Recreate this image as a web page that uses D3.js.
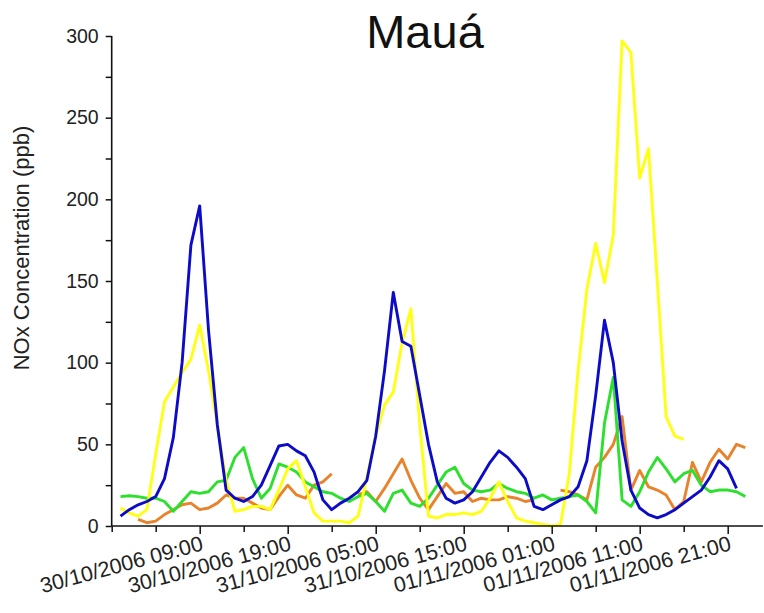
<!DOCTYPE html>
<html>
<head>
<meta charset="utf-8">
<script src="https://cdn.jsdelivr.net/npm/d3@7"></script>
<style>
  body { margin: 0; background: #fff; }
  svg { display: block; }
  text { font-family: "Liberation Sans", Arial, sans-serif; }
</style>
</head>
<body>
<svg id="chart" width="764" height="613"></svg>
<script>
// Hourly NOx readings (ppb) at Mauá, first value at 30/10/2006 00:00; null = no reading
const firstHour = "2006-10-30T00:00";

const seriesBlue = [6, 10, 13, 15, 18, 29, 54, 100, 172, 196, 120, 62, 22, 17, 15, 18, 25, 37, 49, 50,
  46, 43, 33, 16, 10, 14, 17, 21, 28, 55, 95, 143, 113, 110, 80, 50, 27, 17, 14, 16,
  21, 30, 39, 46, 42, 36, 29, 12, 10, 13, 16, 18, 24, 40, 80, 126, 100, 52, 22, 11,
  7, 5, 7, 10, 14, 18, 22, 30, 40, 35, 23];

const seriesYellow = [11, 8, 6, 10, 44, 76, 85, 94, 102, 123, 95, 62, 28, 9, 10, 12, 12, 10, 22, 35,
  40, 24, 8, 3, 3, 3, 2, 6, 30, 55, 74, 82, 112, 133, 62, 6, 5, 7, 7, 8,
  7, 9, 17, 27, 15, 5, 3, 2, 1, 0, 1, 32, 95, 145, 173, 149, 178, 297, 290, 213,
  231, 150, 67, 55, 53];

const seriesGreen = [18, 18.5, 18, 17, 17, 15, 9, 15, 21, 20, 21, 27, 28, 42, 48, 29, 17, 23, 38, 36,
  33, 27, 24, 21, 20, 17, 15, 18, 20, 15, 9, 20, 22, 14, 12, 17, 25, 33, 36, 26,
  22, 21, 22, 26, 23, 21, 20, 17, 19, 16, 17, 18, 19, 15, 8, 63, 91, 16, 12, 21,
  33, 42, 35, 27, 32, 34, 25, 21, 22, 22, 21, 18];

const seriesOrange = [null, null, 4, 2, 3, 7, 10, 13, 14, 10, 11, 14, 19, 17, 17, 14, 11, 10, 18, 25,
  19, 17, 25, 27, 32, null, null, 19, 21, 15, 23, 32, 41, 28, 17, 10, 18, 26, 20, 21,
  15, 17, 16, 16, 18, 17, 15, 16, null, null, 22, 21, 19, 16, 36, 42, 50, 67, 22, 34,
  24, 22, 19, 10, 15, 39, 27, 39, 47, 41, 50, 48];

const axisStart = "2006-10-29T23:00";
const axisEnd = "2006-11-02T01:00";
const yTickValues = [0, 50, 100, 150, 200, 250, 300];
const yMinorValues = [25, 75, 125, 175, 225, 275];

const titleText = "Mauá";
const yTitle = "NOx Concentration (ppb)";

const parse = d3.utcParse("%Y-%m-%dT%H:%M");
const fmt = d3.utcFormat("%d/%m/%Y %H:%M");
const t0 = parse(firstHour);
const tStart = parse(axisStart);
const tEnd = parse(axisEnd);

const svg = d3.select("#chart");

const x = d3.scaleUtc().domain([tStart, tEnd]).range([111.7, 762.9]);
const y = d3.scaleLinear().domain([0, 300]).range([526, 36]);

// every 5 hours a tick, every 10 hours a labelled one
const allTicks = d3.range(0, 75, 5).map(h => d3.utcHour.offset(tStart, h));
const labelTicks = allTicks.filter((d, i) => i % 2 === 0 && i > 0);
const minorTicks = allTicks.filter((d, i) => i % 2 === 1 || i === 0);

const toPoints = arr => arr.map((v, i) => ({ t: d3.utcHour.offset(t0, i), v }));

const line = d3.line()
  .defined(d => d.v !== null)
  .x(d => x(d.t))
  .y(d => y(d.v));

const series = [
  { data: seriesOrange, color: "#e8832c" },
  { data: seriesGreen, color: "#2ee02e" },
  { data: seriesYellow, color: "#ffff14" },
  { data: seriesBlue, color: "#0c0cc8" }
];

svg.append("g").selectAll("path")
  .data(series)
  .join("path")
  .attr("fill", "none")
  .attr("stroke", d => d.color)
  .attr("stroke-width", 2.9)
  .attr("stroke-linejoin", "round")
  .attr("d", d => line(toPoints(d.data)));

// x axis
const xMinor = svg.append("g").attr("transform", "translate(0,526)")
  .call(d3.axisBottom(x).tickValues(minorTicks).tickSize(6).tickSizeOuter(0).tickFormat(""));
xMinor.select(".domain").remove();

const xMajor = svg.append("g").attr("transform", "translate(0,526)")
  .call(d3.axisBottom(x).tickValues(labelTicks).tickSize(8).tickSizeOuter(0).tickFormat(fmt));
xMajor.select(".domain").remove();
xMajor.selectAll("text")
  .attr("x", 0).attr("y", 0).attr("dy", "0.72em")
  .attr("text-anchor", "end")
  .attr("transform", "translate(0,9) rotate(-15)")
  .attr("font-size", 21.5)
  .attr("fill", "#222");

svg.append("line")
  .attr("x1", x(tStart)).attr("x2", x(tEnd))
  .attr("y1", y(0)).attr("y2", y(0))
  .attr("stroke", "#111").attr("stroke-width", 1.6);

// y axis
const yMajor = svg.append("g").attr("transform", "translate(111.7,0)")
  .call(d3.axisLeft(y).tickValues(yTickValues).tickSize(6).tickSizeOuter(0).tickPadding(7));
yMajor.select(".domain").remove();
yMajor.selectAll("text").attr("font-size", 19.5).attr("fill", "#222");

const yMinor = svg.append("g").attr("transform", "translate(111.7,0)")
  .call(d3.axisLeft(y).tickValues(yMinorValues).tickSize(6).tickSizeOuter(0).tickFormat(""));
yMinor.select(".domain").remove();

svg.selectAll(".tick line").attr("stroke", "#111").attr("stroke-width", 1.5);

svg.append("line")
  .attr("x1", 111.7).attr("x2", 111.7)
  .attr("y1", y(300)).attr("y2", y(0))
  .attr("stroke", "#111").attr("stroke-width", 1.6);

// titles
svg.append("text")
  .attr("x", 425).attr("y", 48)
  .attr("text-anchor", "middle")
  .attr("font-size", 47)
  .attr("fill", "#111")
  .text(titleText);

svg.append("text")
  .attr("transform", "translate(29,248) rotate(-90)")
  .attr("text-anchor", "middle")
  .attr("font-size", 22)
  .attr("fill", "#222")
  .text(yTitle);
</script>
</body>
</html>
